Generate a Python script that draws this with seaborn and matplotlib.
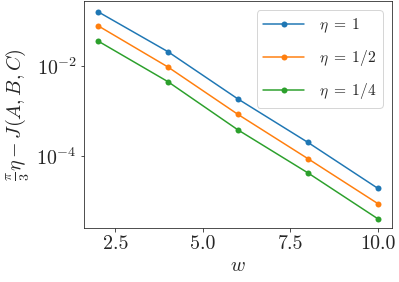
import matplotlib
matplotlib.use('Agg')
import matplotlib.pyplot as plt
import matplotlib.ticker as mticker
import seaborn as sns
import pandas as pd

# datos
w = [2, 4, 6, 8, 10]
eta_1 = [0.161, 0.0208, 0.00185, 2.0e-4, 1.9e-5]
eta_1_2 = [0.0787, 0.0095, 0.00084, 8.7e-5, 8.7e-6]
eta_1_4 = [0.036, 0.00448, 0.00038, 4.2e-5, 4.0e-6]
labels = [r'$\eta\;=\;1$', r'$\eta\;=\;1/2$', r'$\eta\;=\;1/4$']

df = pd.DataFrame({
    'w': w * 3,
    'val': eta_1 + eta_1_2 + eta_1_4,
    'eta': [labels[0]] * 5 + [labels[1]] * 5 + [labels[2]] * 5,
})

sns.set_style('ticks')
plt.rcParams['font.family'] = 'serif'
plt.rcParams['font.serif'] = ['cmr10']
plt.rcParams['mathtext.fontset'] = 'cm'
plt.rcParams['axes.formatter.use_mathtext'] = True

fig = plt.figure(figsize=(399 / 72, 282 / 72), dpi=72)
ax = fig.add_axes([0.21, 0.192, 0.772, 0.804])
sns.lineplot(data=df, x='w', y='val', hue='eta', marker='o', markersize=6,
             markeredgewidth=0, palette='tab10', ax=ax)
ax.set_yscale('log')
ax.set_yticks([1e-2, 1e-4])
ax.yaxis.set_minor_locator(mticker.NullLocator())
ax.set_xticks([2.5, 5.0, 7.5, 10.0])
ax.set_xticklabels(['2.5', '5.0', '7.5', '10.0'])
ax.set_xlim(1.6, 10.4)
ax.set_ylim(10 ** -5.6, 10 ** -0.56)
ax.tick_params(labelsize=20)
ax.set_xlabel(r'$w$', fontsize=20)
ax.set_ylabel(r'$\frac{\pi}{3}\eta - J(A, B, C)$', fontsize=20)
ax.legend(title=None, fontsize=15.5, loc='upper right', labelspacing=0.85,
          handlelength=2.65, handletextpad=0.95, borderaxespad=0.6)
for s in ax.spines.values():
    s.set_visible(True)

fig.savefig('out.png', dpi=72)
